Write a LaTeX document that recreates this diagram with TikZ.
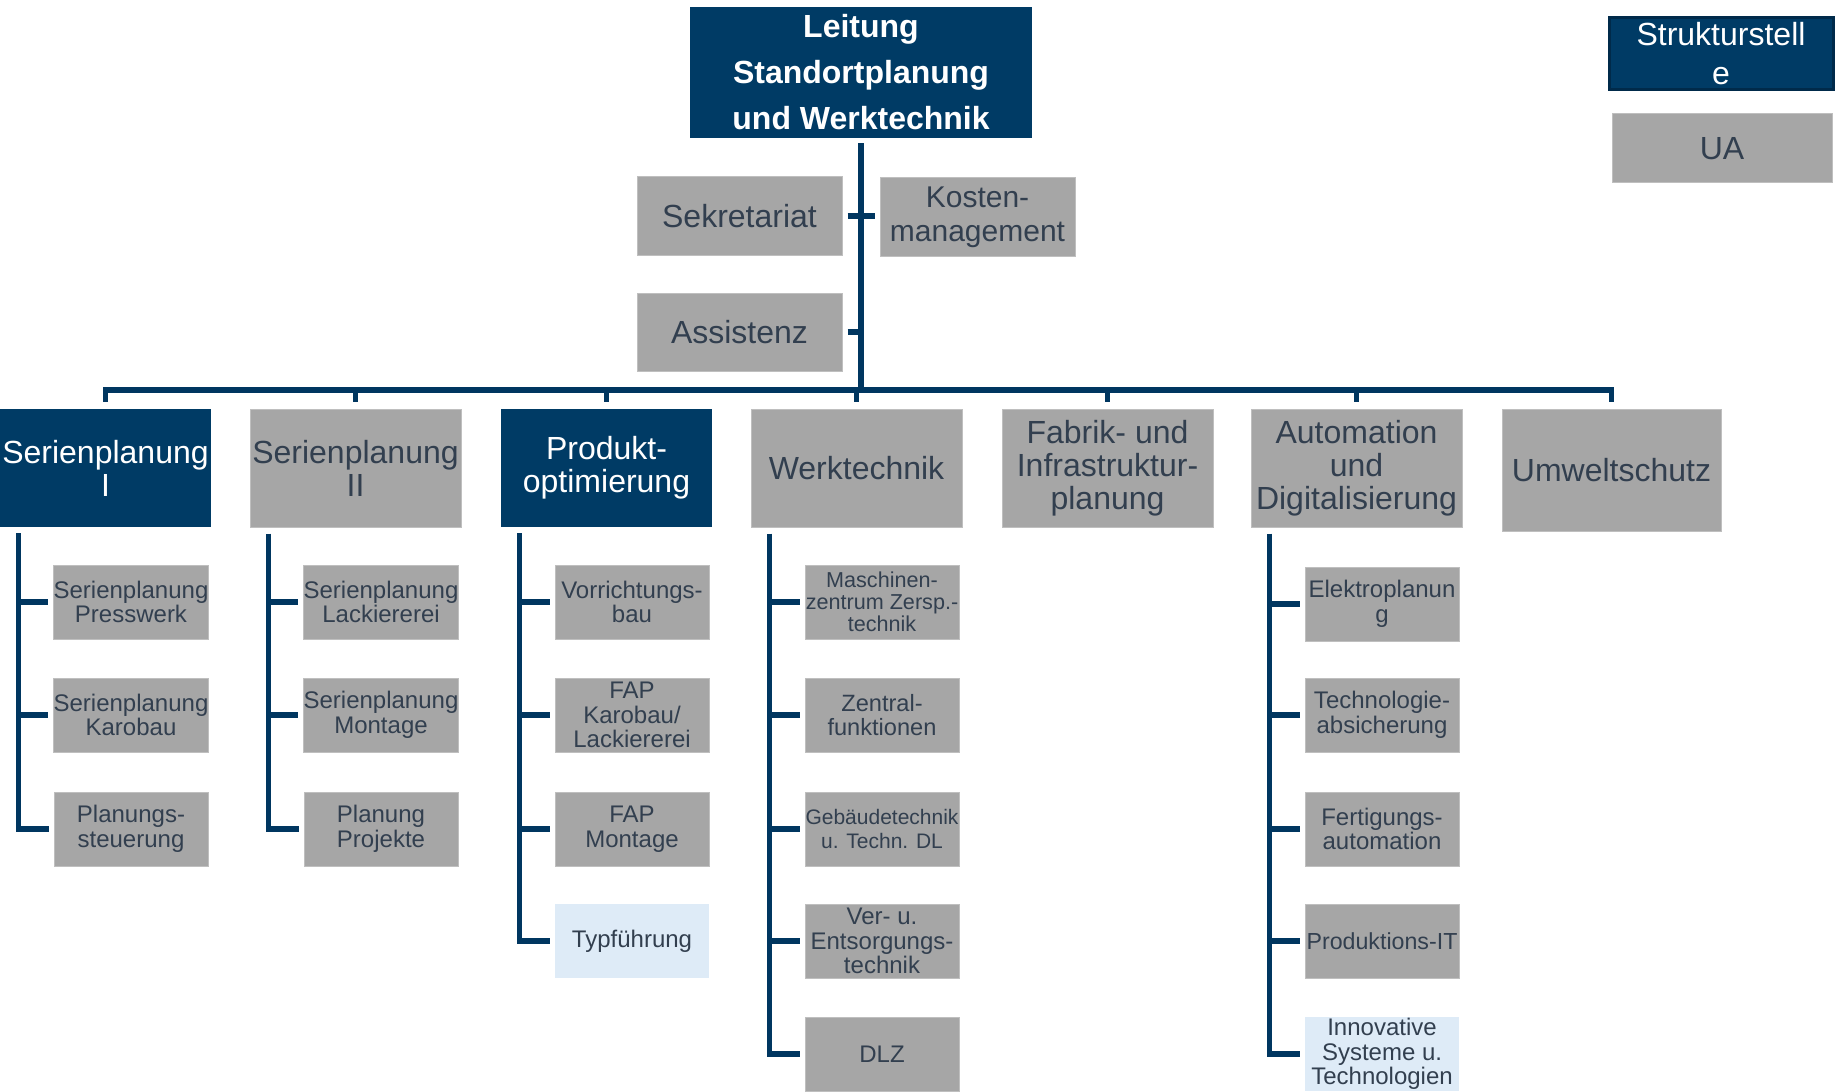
\documentclass[tikz,border=0pt]{standalone}
\usepackage{fontspec}
\setmainfont{Liberation Sans}
\usepackage{xcolor}
\usetikzlibrary{calc}
\definecolor{orgnavy}{HTML}{003B65}
\definecolor{orgnavyedge}{HTML}{002A4A}
\definecolor{orgline}{HTML}{003660}
\definecolor{orggray}{HTML}{A6A6A6}
\definecolor{orgedge}{HTML}{BFBFBF}
\definecolor{orgtext}{HTML}{323F4F}
\definecolor{orglight}{HTML}{DEEBF7}

\tikzset{
  orgbox/.style={inner sep=0pt, align=center},
  navybox/.style={orgbox, fill=orgnavy, text=white},
  graybox/.style={orgbox, fill=orggray, draw=orgedge, line width=0.5pt, text=orgtext},
  lightbox/.style={orgbox, fill=orglight, text=orgtext},
  headbox/.style={minimum width=105.5pt, minimum height=59pt, font=\fontsize{16}{16.5}\selectfont},
  staffbox/.style={minimum height=39pt, font=\fontsize{16}{17}\selectfont},
  subbox/.style={minimum width=77pt, minimum height=37pt, font=\fontsize{12}{12.3}\selectfont},
  orgwire/.style={draw=orgline, line width=2.8pt},
}

\begin{document}
\begin{tikzpicture}[x=0.5pt, y=-0.5pt]
        \useasboundingbox (0,0) rectangle (1839,1091);
        \newcommand{\orgheady}{468}
        \newcommand{\orgrowa}{602}
        \newcommand{\orgrowb}{715}
        \newcommand{\orgrowc}{829}
        \newcommand{\orgrowd}{941}
        \newcommand{\orgrowe}{1054}
        \newcommand{\orgsubdx}{131}
        \newcommand{\orglinedx}{19}
        \node[navybox, minimum width=171pt, minimum height=65.5pt, font=\bfseries\fontsize{16}{23}\selectfont] (leitung) at (861,72.5) {Leitung\\Standortplanung\\und Werktechnik};
        \node[graybox, staffbox, minimum width=102.5pt] (sekretariat) at (739.5,216) {Sekretariat};
        \node[graybox, staffbox, minimum width=97.5pt, font=\fontsize{15}{17}\selectfont] (kosten) at (977.5,217) {Kosten-\\management};
        \node[graybox, staffbox, minimum width=102.5pt] (assistenz) at (739.5,332) {Assistenz};
        \node[navybox, draw=orgnavyedge, line width=1.5pt, minimum width=112pt, minimum height=36pt, font=\fontsize{16}{19.5}\selectfont] (struktur) at (1721,54) {Strukturstell\\e};
        \node[graybox, minimum width=110pt, minimum height=34.5pt, font=\fontsize{16}{17}\selectfont] (ua) at (1722,148.5) {UA};
        \node[navybox, headbox] (spl1) at (105.5,\orgheady) {Serienplanung\\I};
        \node[graybox, headbox] (spl2) at (355.5,\orgheady) {Serienplanung\\II};
        \node[navybox, headbox] (prodopt) at (606.5,\orgheady) {Produkt-\\optimierung};
        \node[graybox, headbox] (werktech) at (856.5,\orgheady) {Werktechnik};
        \node[graybox, headbox] (fabrik) at (1107.5,\orgheady) {Fabrik- und\\Infrastruktur-\\planung};
        \node[graybox, headbox] (autodig) at (1356.5,\orgheady) {Automation\\und\\Digitalisierung};
        \node[graybox, headbox, minimum width=109.5pt, minimum height=61pt] (umwelt) at (1611.5,470) {Umweltschutz};
        \node[graybox, subbox] (spl1a) at (\orgsubdx,\orgrowa) {Serienplanung\\Presswerk};
        \node[graybox, subbox] (spl1b) at (\orgsubdx,\orgrowb) {Serienplanung\\Karobau};
        \node[graybox, subbox] (spl1c) at (\orgsubdx,\orgrowc) {Planungs-\\steuerung};
        \node[graybox, subbox] (spl2a) at (250+\orgsubdx,\orgrowa) {Serienplanung\\Lackiererei};
        \node[graybox, subbox] (spl2b) at (250+\orgsubdx,\orgrowb) {Serienplanung\\Montage};
        \node[graybox, subbox] (spl2c) at (250+\orgsubdx,\orgrowc) {Planung\\Projekte};
        \node[graybox, subbox] (prodopta) at (501+\orgsubdx,\orgrowa) {Vorrichtungs-\\bau};
        \node[graybox, subbox] (prodoptb) at (501+\orgsubdx,\orgrowb) {FAP\\Karobau/\\Lackiererei};
        \node[graybox, subbox] (prodoptc) at (501+\orgsubdx,\orgrowc) {FAP\\Montage};
        \node[lightbox, subbox] (prodoptd) at (501+\orgsubdx,\orgrowd) {Typführung};
        \node[graybox, subbox, font=\fontsize{10.8}{10.9}\selectfont] (werkteca) at (751+\orgsubdx,\orgrowa) {Maschinen-\\zentrum Zersp.-\\technik};
        \node[graybox, subbox, font=\fontsize{11.8}{12.3}\selectfont] (werktecb) at (751+\orgsubdx,\orgrowb) {Zentral-\\funktionen};
        \node[graybox, subbox, font=\fontsize{10.5}{11.75}\selectfont] (werktecc) at (751+\orgsubdx,\orgrowc) {Gebäudetechnik\\u. Techn. DL};
        \node[graybox, subbox] (werktecd) at (751+\orgsubdx,\orgrowd) {Ver- u.\\Entsorgungs-\\technik};
        \node[graybox, subbox] (werktece) at (751+\orgsubdx,\orgrowe) {DLZ};
        \node[graybox, subbox] (autodiga) at (1251+\orgsubdx,\orgrowa+2) {Elektroplanun\\g};
        \node[graybox, subbox] (autodigb) at (1251+\orgsubdx,\orgrowb) {Technologie-\\absicherung};
        \node[graybox, subbox] (autodigc) at (1251+\orgsubdx,\orgrowc) {Fertigungs-\\automation};
        \node[graybox, subbox, font=\fontsize{11.6}{12.3}\selectfont] (autodigd) at (1251+\orgsubdx,\orgrowd) {Produktions-IT};
        \node[lightbox, subbox] (autodige) at (1251+\orgsubdx,\orgrowe) {Innovative\\Systeme u.\\Technologien};
        \coordinate (bus) at (861,390);
        \draw[orgwire, shorten <=2.5pt] (leitung.south) -- (leitung.south |- bus);
        \draw[orgwire, shorten <=2.5pt, shorten >=2.5pt] (sekretariat.east) -- (sekretariat.east -| kosten.west);
        \draw[orgwire, shorten <=2.5pt] (assistenz.east) -- (assistenz.east -| bus);
        \draw[orgwire, shorten <=3.5pt, shorten >=3.5pt] (spl1.north) -- (spl1.north |- bus) -- (umwelt.north |- bus) -- (umwelt.north);
        \draw[orgwire, shorten >=3.5pt] (spl2.north |- bus) -- (spl2.north);
        \draw[orgwire, shorten >=3.5pt] (prodopt.north |- bus) -- (prodopt.north);
        \draw[orgwire, shorten >=3.5pt] (werktech.north |- bus) -- (werktech.north);
        \draw[orgwire, shorten >=3.5pt] (fabrik.north |- bus) -- (fabrik.north);
        \draw[orgwire, shorten >=3.5pt] (autodig.north |- bus) -- (autodig.north);
        \coordinate (spl1line) at ($(spl1.south west)+(\orglinedx,6)$);
        \coordinate (spl2line) at ($(spl2.south west)+(\orglinedx,6)$);
        \coordinate (prodoptline) at ($(prodopt.south west)+(\orglinedx,6)$);
        \coordinate (werktechline) at ($(werktech.south west)+(\orglinedx,6)$);
        \coordinate (autodigline) at ($(autodig.south west)+(\orglinedx,6)$);
        \draw[orgwire, shorten >=2.5pt] (spl1line) |- (spl1c.west);
        \draw[orgwire, shorten >=2.5pt] (spl1a.west -| spl1line) -- (spl1a.west);
        \draw[orgwire, shorten >=2.5pt] (spl1b.west -| spl1line) -- (spl1b.west);
        \draw[orgwire, shorten >=2.5pt] (spl2line) |- (spl2c.west);
        \draw[orgwire, shorten >=2.5pt] (spl2a.west -| spl2line) -- (spl2a.west);
        \draw[orgwire, shorten >=2.5pt] (spl2b.west -| spl2line) -- (spl2b.west);
        \draw[orgwire, shorten >=2.5pt] (prodoptline) |- (prodoptd.west);
        \draw[orgwire, shorten >=2.5pt] (prodopta.west -| prodoptline) -- (prodopta.west);
        \draw[orgwire, shorten >=2.5pt] (prodoptb.west -| prodoptline) -- (prodoptb.west);
        \draw[orgwire, shorten >=2.5pt] (prodoptc.west -| prodoptline) -- (prodoptc.west);
        \draw[orgwire, shorten >=2.5pt] (werktechline) |- (werktece.west);
        \draw[orgwire, shorten >=2.5pt] (werkteca.west -| werktechline) -- (werkteca.west);
        \draw[orgwire, shorten >=2.5pt] (werktecb.west -| werktechline) -- (werktecb.west);
        \draw[orgwire, shorten >=2.5pt] (werktecc.west -| werktechline) -- (werktecc.west);
        \draw[orgwire, shorten >=2.5pt] (werktecd.west -| werktechline) -- (werktecd.west);
        \draw[orgwire, shorten >=2.5pt] (autodigline) |- (autodige.west);
        \draw[orgwire, shorten >=2.5pt] (autodiga.west -| autodigline) -- (autodiga.west);
        \draw[orgwire, shorten >=2.5pt] (autodigb.west -| autodigline) -- (autodigb.west);
        \draw[orgwire, shorten >=2.5pt] (autodigc.west -| autodigline) -- (autodigc.west);
        \draw[orgwire, shorten >=2.5pt] (autodigd.west -| autodigline) -- (autodigd.west);
\end{tikzpicture}
\end{document}
